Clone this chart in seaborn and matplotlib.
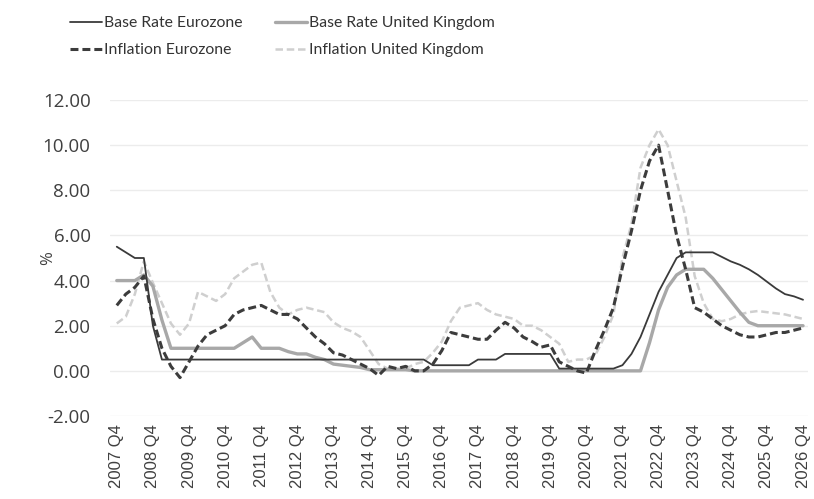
import matplotlib
matplotlib.use("Agg")
import matplotlib.pyplot as plt
from matplotlib.lines import Line2D
import numpy as np
import pandas as pd
import seaborn as sns

# Quarterly axis labels, one tick per year (Q4)
years = list(range(2007, 2027))
tick_labels = [f"{y} Q4" for y in years]

# Quarterly series, 2007 Q4 .. 2026 Q4 (77 quarters)
base_rate_ez = [
    5.5, 5.25, 5.0, 5.0, 2.0, 0.5, 0.5, 0.5, 0.5, 0.5, 0.5, 0.5, 0.5,
    0.5, 0.5, 0.5, 0.5, 0.5, 0.5, 0.5, 0.5, 0.5, 0.5, 0.5, 0.5,
    0.5, 0.5, 0.5, 0.5, 0.5, 0.5, 0.5, 0.5, 0.5, 0.5, 0.25, 0.25,
    0.25, 0.25, 0.25, 0.5, 0.5, 0.5, 0.75, 0.75, 0.75, 0.75, 0.75, 0.75,
    0.1, 0.1, 0.1, 0.1, 0.1, 0.1, 0.1, 0.25, 0.75, 1.5, 2.5, 3.5,
    4.25, 5.0, 5.25, 5.25, 5.25, 5.25, 5.05, 4.85, 4.7, 4.5, 4.25, 3.95,
    3.65, 3.4, 3.3, 3.15,
]
base_rate_uk = [
    4.0, 4.0, 4.0, 4.25, 3.75, 2.25, 1.0, 1.0, 1.0, 1.0, 1.0, 1.0, 1.0,
    1.0, 1.25, 1.5, 1.0, 1.0, 1.0, 0.85, 0.75, 0.75, 0.6, 0.5, 0.3,
    0.25, 0.2, 0.15, 0.05, 0.05, 0.05, 0.05, 0.05, 0.0, 0.0, 0.0, 0.0,
    0.0, 0.0, 0.0, 0.0, 0.0, 0.0, 0.0, 0.0, 0.0, 0.0, 0.0, 0.0,
    0.0, 0.0, 0.0, 0.0, 0.0, 0.0, 0.0, 0.0, 0.0, 0.0, 1.25, 2.7,
    3.7, 4.25, 4.5, 4.5, 4.5, 4.1, 3.6, 3.1, 2.6, 2.15, 2.0, 2.0,
    2.0, 2.0, 2.0, 2.0,
]
inflation_ez = [
    2.9, 3.4, 3.7, 4.2, 2.3, 1.0, 0.2, -0.3, 0.4, 1.1, 1.6, 1.8, 2.0,
    2.5, 2.7, 2.8, 2.9, 2.7, 2.5, 2.5, 2.3, 1.9, 1.5, 1.2, 0.8,
    0.7, 0.5, 0.3, 0.1, -0.2, 0.2, 0.1, 0.2, 0.0, 0.0, 0.3, 0.9,
    1.7, 1.6, 1.5, 1.4, 1.4, 1.8, 2.15, 1.9, 1.5, 1.3, 1.05, 1.15,
    0.4, 0.2, 0.0, -0.1, 0.9, 1.8, 2.8, 4.6, 6.2, 8.0, 9.3, 10.0,
    8.0, 6.0, 4.5, 2.8, 2.6, 2.3, 2.0, 1.8, 1.6, 1.5, 1.5, 1.6,
    1.7, 1.7, 1.8, 1.9,
]
inflation_uk = [
    2.1, 2.4, 3.4, 4.85, 3.9, 3.0, 2.1, 1.6, 2.1, 3.5, 3.3, 3.1, 3.4,
    4.1, 4.4, 4.7, 4.8, 3.5, 2.8, 2.5, 2.7, 2.8, 2.7, 2.6, 2.15,
    1.9, 1.75, 1.5, 0.9, 0.3, 0.1, 0.1, 0.1, 0.3, 0.4, 0.8, 1.3,
    2.2, 2.8, 2.9, 3.0, 2.7, 2.5, 2.4, 2.3, 2.0, 2.0, 1.8, 1.5,
    1.2, 0.4, 0.5, 0.5, 0.7, 1.5, 2.5, 5.0, 6.5, 9.0, 10.0, 10.7,
    10.0, 8.4, 6.8, 4.2, 3.0, 2.3, 2.2, 2.3, 2.5, 2.6, 2.65, 2.6,
    2.55, 2.5, 2.4, 2.3,
]

n = len(base_rate_ez)
quarter = np.arange(n)
df = pd.DataFrame({
    "q": quarter,
    "Base Rate Eurozone": base_rate_ez,
    "Base Rate United Kingdom": base_rate_uk,
    "Inflation Eurozone": inflation_ez,
    "Inflation United Kingdom": inflation_uk,
})

sns.set_theme(style="white")
plt.rcParams["font.family"] = ["Open Sans", "DejaVu Sans"]

text_color = "#404040"
styles = {
    "Base Rate Eurozone": dict(color="#3a3a3a", linewidth=1.3, linestyle="-"),
    "Base Rate United Kingdom": dict(color="#a8a8a8", linewidth=2.4, linestyle="-"),
    "Inflation Eurozone": dict(color="#3c3c3c", linewidth=2.2, dashes=(2.6, 1.3)),
    "Inflation United Kingdom": dict(color="#cfcfcf", linewidth=1.8, dashes=(3.0, 1.5)),
}

fig = plt.figure(figsize=(8.14, 4.99), dpi=100)
ax = fig.add_axes([110 / 814, 1 - 416 / 499, 698 / 814, 316 / 499])

draw_order = ["Inflation United Kingdom", "Base Rate United Kingdom",
              "Inflation Eurozone", "Base Rate Eurozone"]
for name in draw_order:
    st = dict(styles[name])
    dashes = st.pop("dashes", None)
    sns.lineplot(data=df, x="q", y=name, ax=ax, legend=False, **st)
    if dashes is not None:
        ax.lines[-1].set_dashes(dashes)

ax.set_xlim(-0.75, n - 0.45)
ax.set_ylim(-2, 12)
yt = np.arange(-2, 12.1, 2)
ax.set_yticks(yt)
ax.set_yticklabels([f"{v:.2f}" for v in yt], fontsize=13.5, color=text_color)
ax.set_xticks(quarter[::4])
ax.set_xticklabels(tick_labels, rotation=90, fontsize=12, color=text_color,
                   family=["Liberation Sans", "DejaVu Sans"])
ax.tick_params(axis="y", length=0, pad=14)
ax.tick_params(axis="x", length=0, pad=6)
ax.set_xlabel("")
ax.set_ylabel("%", fontsize=12, color=text_color)
ax.yaxis.set_label_coords((56 - 110) / 698, 0.5)
ax.grid(axis="y", color="#ececec", linewidth=1.0)
ax.grid(axis="x", visible=False)
for s in ax.spines.values():
    s.set_visible(False)

handles = []
labels = ["Base Rate Eurozone", "Inflation Eurozone",
          "Base Rate United Kingdom", "Inflation United Kingdom"]
for name in labels:
    st = dict(styles[name])
    dashes = st.pop("dashes", None)
    h = Line2D([], [], **st)
    if dashes is not None:
        h.set_dashes(dashes)
    handles.append(h)

fig.legend(handles, labels, ncol=2, loc="upper left",
           bbox_to_anchor=(56 / 814, 1 - 2 / 499), frameon=False,
           prop={"family": ["Lato", "DejaVu Sans"], "size": 11.3},
           handlelength=2.0, handletextpad=0.15,
           columnspacing=2.1, labelspacing=0.85, labelcolor="#333333")

fig.savefig("out.png", dpi=100)
